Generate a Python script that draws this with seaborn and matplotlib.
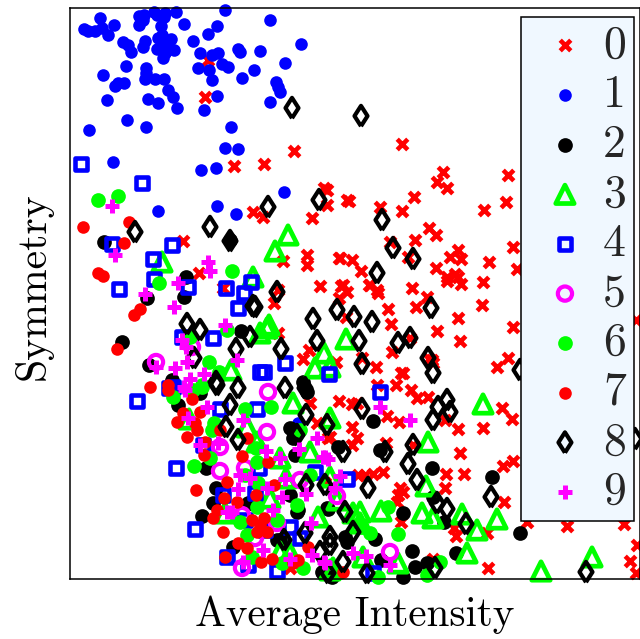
import numpy as np
import pandas as pd
import matplotlib
matplotlib.use("Agg")
import matplotlib.pyplot as plt
import seaborn as sns

# Values. The original has no ticks, so the units are
# arbitrary; symmetry is counted downwards from the top of the frame.
digit_0 = [(208,60),(205,97),(234,166),(264,164),(294,151),(324,188),(347,200),(402,144),(443,172),(437,182),
           (447,188),(508,175),(506,202),(484,210),(349,201),(380,207),(402,211),(414,197),(429,228),(436,235),
           (415,240),(390,242),(450,257),(461,259),(458,250),(513,247),(489,262),(517,269),(352,260),(361,271),
           (340,258),(408,257),(436,268),(447,277),(455,274),(458,277),(461,284),(483,282),(412,288),(370,285),
           (343,285),(377,290),(253,212),(263,217),(327,205),(327,190),(312,218),(283,261),(307,255),(307,265),
           (339,258),(320,286),(341,286),(347,292),(339,298),(369,285),(378,293),(427,297),(388,309),(416,307),
           (391,324),(437,331),(346,317),(278,333),(274,303),(278,290),(410,338),(392,352),(432,360),(309,350),
           (303,359),(336,362),(362,358),(376,367),(401,373),(377,385),(396,385),(411,390),(482,305),(458,318),
           (513,327),(460,341),(429,359),(433,363),(508,358),(497,367),(403,373),(417,398),(428,397),(502,408),
           (512,419),(445,420),(458,429),(483,428),(447,281),(636,320),(339,401),(352,404),(357,403),(387,416),
           (399,422),(352,427),(357,438),(352,445),(330,437),(460,453),(513,461),(503,466),(464,474),(446,474),
           (383,472),(373,474),(365,475),(358,475),(445,488),(400,488),(403,492),(398,495),(397,502),(504,502),
           (401,522),(454,528),(456,536),(487,533),(527,522),(567,526),(624,524),(637,545),(630,561),(636,573),
           (488,568),(433,559),(386,443),(413,445),(310,403),(317,423),(290,568),(325,483),(183,241),(199,273),
           (223,288),(328,438)]
digit_1 = [(100,18),(84,29),(88,31),(95,31),(102,28),(108,35),(114,25),(139,16),(144,15),(143,20),(139,25),
           (154,12),(157,15),(165,13),(164,17),(176,12),(225,10),(270,20),(184,24),(161,26),(217,26),(208,34),
           (162,35),(158,38),(171,39),(193,41),(123,42),(128,45),(131,52),(145,41),(143,47),(157,49),(162,43),
           (167,48),(174,50),(165,53),(163,58),(200,53),(212,55),(218,53),(238,49),(240,52),(260,51),(301,44),
           (285,63),(126,66),(103,75),(146,68),(146,73),(145,79),(155,79),(164,79),(198,68),(209,70),(212,80),
           (222,64),(228,67),(254,70),(242,78),(276,82),(278,87),(280,92),(270,102),(124,83),(118,83),(115,86),
           (168,90),(173,97),(148,99),(158,103),(177,108),(107,100),(217,96),(204,110),(127,120),(146,127),
           (89,130),(231,127),(225,148),(238,149),(113,162),(201,170),(216,168),(284,192),(158,211),(217,206),
           (236,214),(298,423)]
digit_2 = [(104,242),(186,277),(184,297),(147,298),(122,342),(149,365),(172,380),(230,240),(241,331),(178,405),
           (202,516),(206,468),(216,488),(213,503),(248,503),(290,428),(293,438),(295,455),(327,508),(322,572),
           (233,547),(277,540),(290,495),(298,510),(303,382),(200,393),(307,392),(373,421),(338,447),(380,450),
           (432,468),(492,477),(433,497),(328,509),(403,513),(444,522),(520,533),(347,542),(375,539),(412,551),
           (456,553),(381,560),(415,567),(427,563),(403,577),(332,577),(297,512),(345,537),(323,573),(280,540),
           (250,503)]
digit_3 = [(288,235),(275,251),(253,277),(269,325),(267,328),(346,339),(324,353),(315,368),(330,367),(162,262),
           (231,370),(260,333),(483,404),(330,418),(428,442),(360,512),(381,511),(422,513),(433,518),(462,514),
           (497,519),(477,530),(426,486),(467,553),(360,523),(363,557),(398,563),(541,571),(592,557),(330,477),
           (337,500),(333,568),(189,419),(247,427),(257,442),(280,458),(286,478),(310,452),(293,403),(270,498),
           (318,517),(280,552),(290,553),(225,513),(330,570),(353,513)]
digit_4 = [(81,164),(142,183),(112,244),(172,245),(153,259),(154,279),(119,289),(188,287),(226,288),(251,282),
           (244,293),(238,308),(182,337),(213,338),(260,372),(173,387),(285,363),(264,372),(329,374),(380,392),
           (137,401),(169,388),(220,409),(257,409),(176,468),(195,529),(203,445),(259,468),(315,472),(223,495),
           (245,520),(255,493),(227,557),(290,527),(265,530),(248,565),(277,571),(300,538),(347,479),(373,573)]
digit_5 = [(156,362),(268,392),(267,432),(220,471),(220,447),(245,468),(300,480),(277,523),(255,538),(242,568),
           (242,515),(337,496),(390,552),(192,347)]
digit_6 = [(98,200),(118,196),(159,283),(232,271),(227,330),(190,337),(209,362),(219,372),(202,387),(202,385),
           (173,397),(193,390),(245,409),(271,407),(212,430),(214,423),(256,448),(257,462),(194,466),(210,458),
           (245,475),(258,483),(257,507),(240,522),(277,520),(247,535),(252,557),(282,563),(303,568),(297,505),
           (310,475),(300,430),(398,534),(388,507),(370,533),(362,527),(427,575),(440,562),(378,577)]
digit_7 = [(83,227),(129,222),(124,243),(98,273),(103,276),(134,315),(140,309),(117,349),(150,387),(168,385),
           (168,390),(192,399),(183,413),(200,412),(177,422),(197,430),(195,423),(187,437),(205,442),(204,455),
           (247,438),(242,456),(268,462),(196,490),(227,482),(274,485),(256,495),(224,498),(237,502),(217,510),
           (213,518),(223,532),(252,520),(264,518),(260,525),(257,532),(267,532),(238,543),(247,548),(225,557),
           (261,562),(272,559),(298,560),(293,563),(308,547),(220,430),(343,572)]
digit_8 = [(292,108),(361,116),(135,232),(210,227),(230,241),(253,306),(187,324),(200,330),(250,337),(236,349),
           (194,358),(216,382),(238,388),(268,207),(319,200),(382,220),(393,248),(413,259),(377,273),(277,292),
           (255,307),(337,310),(313,319),(354,317),(372,322),(431,308),(410,338),(398,343),(317,341),(359,341),
           (281,349),(362,364),(428,358),(433,373),(285,388),(305,388),(217,385),(230,405),(226,427),(238,440),
           (306,415),(327,425),(297,435),(306,485),(325,485),(284,540),(305,533),(320,552),(328,573),(447,400),
           (438,407),(450,412),(433,420),(362,409),(413,445),(385,452),(343,452),(408,464),(417,480),(368,488),
           (491,497),(437,503),(447,509),(466,524),(345,512),(330,537),(330,545),(353,532),(343,562),(367,573),
           (435,568),(586,572),(520,370),(635,439)]
digit_9 = [(112,206),(115,255),(208,262),(210,271),(178,283),(145,294),(174,307),(225,325),(182,340),(186,347),
           (187,362),(156,367),(175,368),(237,360),(204,374),(190,379),(184,387),(185,390),(207,407),(188,418),
           (243,420),(200,445),(218,443),(266,451),(280,458),(299,449),(317,438),(325,457),(240,475),(250,478),
           (285,479),(238,489),(267,488),(306,494),(282,497),(273,510),(227,512),(232,512),(311,523),(263,550),
           (290,559),(243,562),(312,555),(324,562),(410,420),(380,407),(328,459),(323,457),(340,476),(335,488),
           (353,553),(366,556),(390,565),(325,563)]

digits = [digit_0, digit_1, digit_2, digit_3, digit_4, digit_5, digit_6, digit_7, digit_8, digit_9]
labels = ["0", "1", "2", "3", "4", "5", "6", "7", "8", "9"]

# the built-in "d" is too narrow for this chart
wide_diamond = [(0, -1), (0.64, 0), (0, 1), (-0.64, 0), (0, -1)]

# marker, colour, size, line width, hollow
styles = [
    ("x", "#ff0000", 58, 3.3, False),
    ("o", "#0000ff", 82, 0, False),
    ("o", "#000000", 112, 0, False),
    ("^", "#00ff00", 175, 3.4, True),
    ("s", "#0000ff", 72, 3.3, True),
    ("o", "#ff00ff", 105, 3.0, True),
    ("o", "#00ff00", 112, 0, False),
    ("o", "#ff0000", 82, 0, False),
    (wide_diamond, "#000000", 215, 3.0, True),
    ("+", "#ff00ff", 112, 3.6, False),
]

sns.set_theme(style="white")
plt.rcParams["font.family"] = ["cmr10", "DejaVu Sans"]
plt.rcParams["axes.formatter.use_mathtext"] = True

fig = plt.figure(figsize=(6.40, 6.39), dpi=100)
ax = fig.add_axes([70 / 640, 1 - 579 / 639, 570 / 640, 571 / 639])

for points, label, (marker, color, size, lw, hollow) in zip(digits, labels, styles):
    df = pd.DataFrame(points, columns=["intensity", "symmetry"])
    if hollow:
        sns.scatterplot(data=df, x="intensity", y="symmetry", marker=marker, s=size,
                        facecolor="none", edgecolor=color, linewidth=lw,
                        clip_on=False, label=label, ax=ax)
    else:
        sns.scatterplot(data=df, x="intensity", y="symmetry", marker=marker, s=size,
                        color=color, edgecolor=color if lw == 0 else None, linewidth=lw,
                        clip_on=False, label=label, ax=ax)

ax.set_xlim(70, 640)
ax.set_ylim(579, 8)
ax.set_xticks([])
ax.set_yticks([])
for spine in ax.spines.values():
    spine.set_color("black")
    spine.set_linewidth(1.1)

ax.set_xlabel("Average Intensity", fontsize=29.6, color="black", labelpad=12)
ax.set_ylabel("Symmetry", fontsize=30, color="black")
ax.yaxis.set_label_coords(-0.03, 0.512)

leg = ax.legend(loc="upper right", bbox_to_anchor=(0.9895, 0.9842), borderaxespad=0,
                fontsize=33, frameon=True, fancybox=False, framealpha=1,
                facecolor="#f0f8ff", edgecolor="black", scatterpoints=1,
                labelspacing=0.174, borderpad=0.17, handletextpad=0.05, handlelength=1.57)
leg.get_frame().set_linewidth(1.1)
leg.set_zorder(10)

fig.savefig("out.png", dpi=100)
